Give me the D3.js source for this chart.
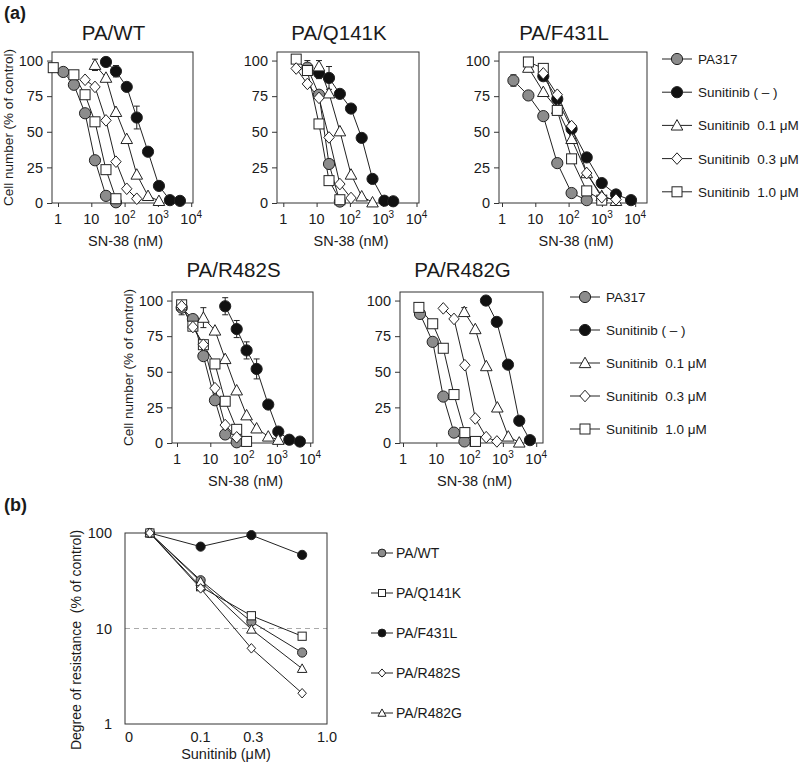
<!DOCTYPE html>
<html><head><meta charset="utf-8">
<script src="https://cdn.jsdelivr.net/npm/d3@7"></script>
<style>
body{margin:0;background:#fff}
text{font-family:"Liberation Sans",Arial,Helvetica,sans-serif;fill:#1a1a1a;white-space:pre}
</style>
</head><body>
<svg id="c" width="800" height="763" xmlns="http://www.w3.org/2000/svg"></svg>
<script>
// ---------------- DATA ----------------
const seriesNames = ["PA317", "Sunitinib ( \u2013 )", "Sunitinib  0.1 \u03bcM", "Sunitinib  0.3 \u03bcM", "Sunitinib  1.0 \u03bcM"];
const seriesShapes = ["grayCircle", "blackCircle", "triangle", "diamond", "square"];
const panelTitles = ["PA/WT", "PA/Q141K", "PA/F431L", "PA/R482S", "PA/R482G"];
const xTickValues = [1, 10, 100, 1000, 10000];
const yTickValues = [0, 25, 50, 75, 100];

// each point: [SN-38 nM, cell number %, optional error]
const wt_PA317 = [[1.44,92],[3.0,83],[6.5,63],[12.9,30],[27.6,5],[55,0.5]];
const wt_none  = [[27.6,99],[55,92.5,4],[116,81.5],[232,60,8],[505,36],[1075,12],[2300,2],[4600,1.5]];
const wt_s01   = [[12.9,97,4],[27.6,88],[55,64],[116,45],[232,20],[505,5],[1075,1.5]];
const wt_s03   = [[6.5,86.5],[12.9,81.5],[27.6,58],[55,29],[116,10],[232,3]];
const wt_s10   = [[0.72,95],[3.0,90],[6.5,76],[12.9,57],[27.6,23.4],[55,3]];

const q_PA317 = [[5.3,95,5],[11.8,76],[23.6,27.4],[50,1]];
const q_none  = [[11.8,91.3,4],[23.6,87.8,8],[50,76.6],[108,66.3],[226,45.7],[478,16.9],[1080,1.6],[2000,1.2]];
const q_s01   = [[11.8,96,4],[23.6,77],[50,50.4],[108,20],[226,4.7],[478,0.5]];
const q_s03   = [[2.44,94.4],[5.3,83.6],[11.8,73.8],[23.6,46],[50,13.3],[108,3.5]];
const q_s10   = [[2.44,101],[5.3,93],[11.8,55.5],[23.6,15.7],[50,2.3]];

const f_PA317 = [[2.2,86,4],[6.2,75.5],[17.4,61],[45.7,28],[123,7],[350,2]];
const f_none  = [[17.4,89,3],[45.7,73],[123,52],[350,32],[990,14],[2650,6],[7500,2]];
const f_s01   = [[6.2,95],[17.4,78],[45.7,66],[123,45],[350,21],[990,5],[2650,1.5]];
const f_s03   = [[17.4,91],[45.7,76],[123,54],[350,21],[990,4],[2650,2.5]];
const f_s10   = [[6.2,99],[17.4,94.5],[45.7,65],[123,31],[350,8.5],[990,2]];

const s_PA317 = [[1.38,95,5],[3.0,87],[6.2,61],[13.8,30],[28,6],[62,0.5]];
const s_none  = [[28,96,6],[62,80,6],[123,65,6],[246,52,7],[550,27],[1100,8],[2350,2.3],[4900,1]];
const s_s01   = [[6.2,88,7],[13.8,79],[28,59],[62,37],[123,19.5],[246,10.3],[550,4.6],[1100,2.3]];
const s_s03   = [[1.38,96],[3.0,81.4],[6.2,69],[13.8,38.5],[28,12.6],[62,4]];
const s_s10   = [[1.38,97],[3.0,82],[6.2,69],[13.8,55.5],[28,29.3],[62,9.6],[123,1.1]];

const g_PA317 = [[3.24,90.6],[7.8,71],[16.2,32.6],[34,7.3],[70,1.1]];
const g_none  = [[310,100,3],[655,85,3],[1420,55],[3100,15.6],[6500,2]];
const g_s01   = [[69,92,3],[148,80],[317,54],[680,25],[1450,4.6],[3100,0.4]];
const g_s03   = [[16.2,94.5],[34,87.1],[72,54.6],[148,17.2],[315,4.1],[660,1.1]];
const g_s10   = [[3.0,95.2],[7.8,83.7],[16.2,66.5],[34,34],[72,7.3],[150,1.1]];

// panel (b)
const sunitinibDoses = ["0", "0.1", "0.3", "1.0"];
const bNames = ["PA/WT", "PA/Q141K", "PA/F431L", "PA/R482S", "PA/R482G"];
const bShapes = ["grayCircle", "square", "blackCircle", "diamond", "triangle"];
const b_WT    = [100, 32, 11.8, 5.6];
const b_Q141K = [100, 27.4, 13.6, 8.3];
const b_F431L = [100, 72, 95, 59];
const b_R482S = [100, 26.3, 6.2, 2.1];
const b_R482G = [100, 31, 9.8, 3.8];
const bTickValues = [1, 10, 100];

// ---------------- LAYOUT ----------------
const panelData = [
  [wt_PA317, wt_none, wt_s01, wt_s03, wt_s10],
  [q_PA317, q_none, q_s01, q_s03, q_s10],
  [f_PA317, f_none, f_s01, f_s03, f_s10],
  [s_PA317, s_none, s_s01, s_s03, s_s10],
  [g_PA317, g_none, g_s01, g_s03, g_s10]
];
const panelBoxes = [
  {l:52, r:193, t:52, b:203, off:6, ylab:true, ty:40},
  {l:277, r:419, t:52, b:203, off:6.3, ylab:false, ty:40},
  {l:499, r:647, t:52, b:203, off:3, ylab:false, ty:40},
  {l:172, r:313, t:292, b:443, off:5, ylab:true, ty:277},
  {l:400, r:543, t:292, b:443, off:3, ylab:false, ty:277}
];
const DECADE = 33.3;
const INK = "#222";

const svg = d3.select("#c");

function drawMarker(g, shape, x, y, k) {
  k = k || 1;
  if (shape === "grayCircle" || shape === "blackCircle") {
    g.append("circle").attr("cx", x).attr("cy", y).attr("r", 5.6 * k)
      .attr("fill", shape === "grayCircle" ? "#8c8c8c" : "#111")
      .attr("stroke", INK).attr("stroke-width", 1);
  } else if (shape === "square") {
    const s = 10 * k;
    g.append("rect").attr("x", x - s/2).attr("y", y - s/2).attr("width", s).attr("height", s)
      .attr("fill", "#fff").attr("stroke", INK).attr("stroke-width", 1);
  } else if (shape === "triangle") {
    const h = 5.8 * k;
    g.append("path").attr("d", `M${x},${y-h}L${x+h},${y+h*0.8}L${x-h},${y+h*0.8}Z`)
      .attr("fill", "#fff").attr("stroke", INK).attr("stroke-width", 1);
  } else if (shape === "diamond") {
    const w = 5.2 * k, h = 5.8 * k;
    g.append("path").attr("d", `M${x},${y-h}L${x+w},${y}L${x},${y+h}L${x-w},${y}Z`)
      .attr("fill", "#fff").attr("stroke", INK).attr("stroke-width", 1);
  }
}

// labels (a) / (b)
svg.append("text").attr("x", 4).attr("y", 19).attr("font-size", 18).attr("font-weight", "bold").text("(a)");
svg.append("text").attr("x", 4).attr("y", 511).attr("font-size", 18).attr("font-weight", "bold").text("(b)");

panelBoxes.forEach((p, pi) => {
  const g = svg.append("g");
  const x = d3.scaleLog().domain([1, 1e4]).range([p.l + p.off, p.l + p.off + 4 * DECADE]);
  const y = d3.scaleLinear().domain([0, 106]).range([p.b, p.t]);

  // frame
  g.append("rect").attr("x", p.l).attr("y", p.t).attr("width", p.r - p.l).attr("height", p.b - p.t)
    .attr("fill", "none").attr("stroke", "#333").attr("stroke-width", 1);

  // title
  g.append("text").attr("x", (p.l + p.r) / 2 - 9).attr("y", p.ty)
    .attr("text-anchor", "middle").attr("font-size", 20.5).text(panelTitles[pi]);

  // y axis
  const ya = g.append("g").attr("transform", `translate(${p.l},0)`)
    .call(d3.axisLeft(y).tickValues(yTickValues).tickSize(5).tickPadding(4));
  ya.select(".domain").remove();
  ya.selectAll("line").attr("stroke", "#333");
  ya.selectAll("text").attr("font-size", 14.5).attr("fill", "#1a1a1a").attr("font-family", null);

  // x axis
  const xa = g.append("g").attr("transform", `translate(0,${p.b})`)
    .call(d3.axisBottom(x).tickValues(xTickValues).tickSize(4).tickFormat(""));
  xa.select(".domain").remove();
  xa.selectAll("line").attr("stroke", "#333");
  xTickValues.forEach(v => {
    const t = g.append("text").attr("x", x(v)).attr("y", p.b + 21)
      .attr("text-anchor", "middle").attr("font-size", 14.5);
    if (v < 100) t.text(String(v));
    else {
      t.append("tspan").text("10");
      t.append("tspan").attr("dy", -6).attr("font-size", 10).text(String(Math.round(Math.log10(v))));
    }
  });
  g.append("text").attr("x", (p.l + p.r) / 2 + 3).attr("y", p.b + 43)
    .attr("text-anchor", "middle").attr("font-size", 14.5).text("SN-38 (nM)");

  if (p.ylab) {
    g.append("text").attr("transform", `translate(${p.l - 39},${(p.t + p.b) / 2}) rotate(-90)`)
      .attr("text-anchor", "middle").attr("font-size", 13.5).text("Cell number (% of control)");
  }

  const series = panelData[pi];
  const line = d3.line().x(d => x(d[0])).y(d => y(d[1]));
  series.forEach(s => {
    g.append("path").attr("d", line(s)).attr("fill", "none").attr("stroke", INK).attr("stroke-width", 1);
  });
  // error bars
  series.forEach(s => {
    s.filter(d => d.length > 2).forEach(d => {
      const cx = x(d[0]), y1 = y(d[1] + d[2]), y2 = y(d[1] - d[2]);
      g.append("path").attr("d", `M${cx},${y1}V${y2}M${cx-3},${y1}H${cx+3}M${cx-3},${y2}H${cx+3}`)
        .attr("stroke", INK).attr("stroke-width", 1).attr("fill", "none");
    });
  });
  const order = [0, 1, 2, 4, 3];
  order.forEach(si => {
    series[si].forEach(d => drawMarker(g, seriesShapes[si], x(d[0]), y(d[1])));
  });
});

// legends for (a)
function legendA(lx, ly, step) {
  const g = svg.append("g");
  seriesNames.forEach((name, i) => {
    const yy = ly + i * step;
    g.append("line").attr("x1", lx).attr("x2", lx + 30).attr("y1", yy).attr("y2", yy).attr("stroke", INK);
    drawMarker(g, seriesShapes[i], lx + 15, yy);
    g.append("text").attr("x", lx + 36).attr("y", yy + 5).attr("font-size", 13.5).text(name);
  });
}
legendA(662, 59, 33.2);
legendA(570, 297, 33);

// ---------------- PANEL (b) ----------------
(function () {
  const L = 125, R = 327, T = 533, B = 724;
  const g = svg.append("g");
  const x = d3.scalePoint().domain(sunitinibDoses).range([L, R]).padding(0.49);
  const y = d3.scaleLog().domain([1, 100]).range([B, T]);
  g.append("line").attr("x1", L).attr("x2", R).attr("y1", y(10)).attr("y2", y(10))
    .attr("stroke", "#aaa").attr("stroke-dasharray", "5,4");
  g.append("rect").attr("x", L).attr("y", T).attr("width", R - L).attr("height", B - T)
    .attr("fill", "none").attr("stroke", "#333");
  bTickValues.forEach(v => {
    g.append("text").attr("x", L - 13).attr("y", y(v) + 5).attr("text-anchor", "end")
      .attr("font-size", 14.5).text(String(v));
  });
  sunitinibDoses.forEach((d, i) => {
    let px = x(d);
    if (i === 0) px = L + 4;
    if (i === 2) px = x(d) + 2;
    if (i === sunitinibDoses.length - 1) px = R;
    g.append("text").attr("x", px).attr("y", B + 18).attr("text-anchor", "middle")
      .attr("font-size", 14.5).text(d);
  });
  g.append("text").attr("x", (L + R) / 2).attr("y", B + 35).attr("text-anchor", "middle")
    .attr("font-size", 14.5).text("Sunitinib (\u03bcM)");
  g.append("text").attr("transform", `translate(${L - 44},640) rotate(-90)`)
    .attr("text-anchor", "middle").attr("font-size", 14).text("Degree of resistance  (% of control)");

  const bSeries = [b_WT, b_Q141K, b_F431L, b_R482S, b_R482G];
  const line = d3.line().x((d, i) => x(sunitinibDoses[i])).y(d => y(d));
  bSeries.forEach(s => g.append("path").attr("d", line(s)).attr("fill", "none").attr("stroke", INK));
  [2, 0, 1, 4, 3].forEach(si => {
    bSeries[si].forEach((v, i) => drawMarker(g, bShapes[si], x(sunitinibDoses[i]), y(v), 0.82));
  });

  // legend (b)
  const lg = svg.append("g");
  bNames.forEach((n, i) => {
    const yy = 553 + i * 40;
    lg.append("line").attr("x1", 371).attr("x2", 393).attr("y1", yy).attr("y2", yy).attr("stroke", INK);
    drawMarker(lg, bShapes[i], 382, yy, 0.7);
    lg.append("text").attr("x", 396).attr("y", yy + 5).attr("font-size", 14).text(n);
  });
})();
</script>
</body></html>
